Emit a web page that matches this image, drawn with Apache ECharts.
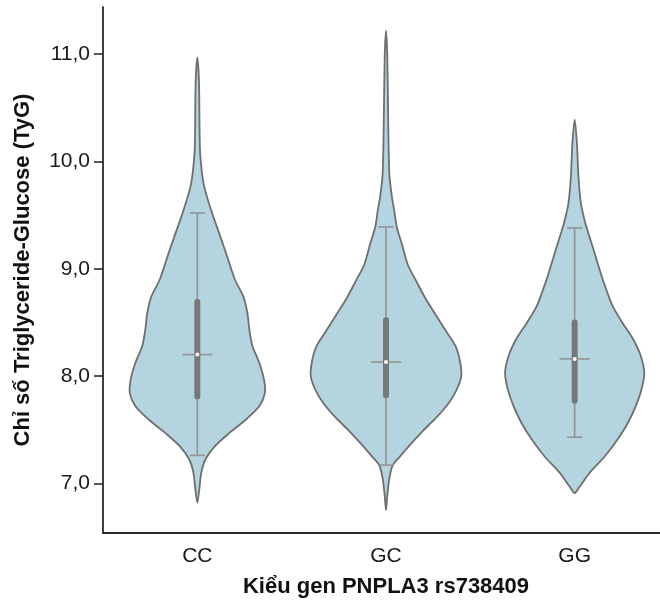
<!DOCTYPE html>
<html>
<head>
<meta charset="utf-8">
<script src="https://cdn.jsdelivr.net/npm/echarts@6/dist/echarts.min.js"></script>
<style>
html,body{margin:0;padding:0;background:#fff;}
#chart{width:660px;height:600px;}
</style>
</head>
<body>
<div id="chart"></div>
<script>
// ---- Data ----
const categories = ['CC', 'GC', 'GG'];
const yTicks = [7, 8, 9, 10, 11];

// Violin outlines: [TyG value, half-width as fraction of category band]
const profileCC = [
  [10.97, 0], [10.73, 0.009], [10.11, 0.014], [9.86, 0.027], [9.74, 0.040],
  [9.52, 0.078], [9.30, 0.122], [9.11, 0.159], [8.90, 0.199], [8.74, 0.244],
  [8.59, 0.265], [8.43, 0.276], [8.28, 0.292], [8.12, 0.329], [7.97, 0.353],
  [7.84, 0.358], [7.72, 0.329], [7.59, 0.255], [7.47, 0.170], [7.34, 0.090],
  [7.22, 0.042], [7.10, 0.021], [6.97, 0.012], [6.82, 0]
];
const profileGC = [
  [11.22, 0], [10.97, 0.007], [10.35, 0.012], [9.88, 0.018], [9.66, 0.032],
  [9.54, 0.044], [9.39, 0.057], [9.22, 0.086], [9.04, 0.115], [8.89, 0.159],
  [8.73, 0.207], [8.58, 0.260], [8.42, 0.318], [8.27, 0.371], [8.11, 0.395],
  [7.99, 0.398], [7.86, 0.371], [7.74, 0.329], [7.61, 0.265], [7.49, 0.196],
  [7.37, 0.133], [7.24, 0.069], [7.17, 0.036], [7.05, 0.018], [6.89, 0.007],
  [6.75, 0]
];
const profileGG = [
  [10.39, 0], [10.17, 0.012], [9.86, 0.020], [9.61, 0.033], [9.45, 0.053],
  [9.38, 0.064], [9.24, 0.089], [9.08, 0.117], [8.93, 0.143], [8.77, 0.175],
  [8.65, 0.202], [8.50, 0.252], [8.35, 0.308], [8.19, 0.350], [8.03, 0.369],
  [7.88, 0.355], [7.72, 0.324], [7.56, 0.281], [7.41, 0.228], [7.25, 0.159],
  [7.10, 0.080], [6.97, 0.027], [6.91, 0]
];

// Box statistics per category
const whiskerLow  = [7.26, 7.17, 7.43];
const q1          = [7.81, 7.82, 7.77];
const median      = [8.20, 8.13, 8.16];
const q3          = [8.69, 8.52, 8.50];
const whiskerHigh = [9.52, 9.39, 9.38];

const profiles = [profileCC, profileGC, profileGG];

// ---- Chart ----
const FONT = '"Liberation Sans", Arial, sans-serif';
const chart = echarts.init(document.getElementById('chart'), null, {renderer: 'canvas'});

function renderViolin(params, api) {
  const i = api.value(0);
  const band = api.size([1, 0])[0];
  const prof = profiles[i];
  const right = [], left = [];
  prof.forEach(function (p) {
    const c = api.coord([i, p[0]]);
    right.push([c[0] + p[1] * band, c[1]]);
    if (p[1] > 0) left.push([c[0] - p[1] * band, c[1]]);
  });
  const pts = right.concat(left.reverse());
  const cx = api.coord([i, median[i]])[0];
  const yLo = api.coord([i, whiskerLow[i]])[1];
  const yHi = api.coord([i, whiskerHigh[i]])[1];
  const yQ1 = api.coord([i, q1[i]])[1];
  const yQ3 = api.coord([i, q3[i]])[1];
  const yMed = api.coord([i, median[i]])[1];
  const capHalf = 0.04 * band;
  const medHalf = 0.08 * band;
  const wStyle = {stroke: '#939393', lineWidth: 1.6};
  return {
    type: 'group',
    children: [
      {type: 'polygon', shape: {points: pts, smooth: 0.3},
       style: {fill: '#b4d4df', stroke: '#6f6f6f', lineWidth: 1.8}},
      {type: 'line', shape: {x1: cx, y1: yLo, x2: cx, y2: yHi}, style: wStyle},
      {type: 'line', shape: {x1: cx - capHalf, y1: yLo, x2: cx + capHalf, y2: yLo}, style: wStyle},
      {type: 'line', shape: {x1: cx - capHalf, y1: yHi, x2: cx + capHalf, y2: yHi}, style: wStyle},
      {type: 'line', shape: {x1: cx - medHalf, y1: yMed, x2: cx + medHalf, y2: yMed}, style: wStyle},
      {type: 'line', shape: {x1: cx, y1: yQ3, x2: cx, y2: yQ1},
       style: {stroke: '#777777', lineWidth: 6, lineCap: 'round'}},
      {type: 'circle', shape: {cx: cx, cy: yMed, r: 2}, style: {fill: '#ffffff'}}
    ]
  };
}

const option = {
  animation: false,
  backgroundColor: '#ffffff',
  grid: {left: 103, right: -9, top: 7, bottom: 67, containLabel: false, outerBoundsMode: 'none'},
  xAxis: {
    type: 'category',
    data: categories,
    boundaryGap: true,
    name: 'Kiểu gen PNPLA3 rs738409',
    nameLocation: 'middle',
    nameGap: 43,
    nameTextStyle: {fontFamily: FONT, fontSize: 22, fontWeight: 'bold', color: '#111'},
    axisLine: {lineStyle: {color: '#2a2a2a', width: 1.8}},
    axisTick: {alignWithLabel: true, length: 9, lineStyle: {color: '#2a2a2a', width: 1.6}},
    axisLabel: {fontFamily: FONT, fontSize: 21, color: '#1a1a1a', margin: 13},
    splitLine: {show: false}
  },
  yAxis: {
    type: 'value',
    min: 6.537,
    max: 11.44,
    name: 'Chỉ số Triglyceride-Glucose (TyG)',
    nameLocation: 'middle',
    nameGap: 69,
    nameTextStyle: {fontFamily: FONT, fontSize: 22, fontWeight: 'bold', color: '#111'},
    axisLine: {show: true, lineStyle: {color: '#2a2a2a', width: 1.8}},
    axisTick: {show: true, length: 9, customValues: yTicks, lineStyle: {color: '#2a2a2a', width: 1.6}},
    axisLabel: {
      fontFamily: FONT, fontSize: 21, color: '#1a1a1a', margin: 13,
      customValues: yTicks,
      formatter: function (v) { return v.toFixed(1).replace('.', ','); }
    },
    splitLine: {show: false}
  },
  series: [{
    type: 'custom',
    renderItem: renderViolin,
    encode: {x: 0, y: 1},
    data: categories.map(function (c, i) { return [i, median[i]]; }),
    clip: false
  }]
};
chart.setOption(option);
</script>
</body>
</html>
